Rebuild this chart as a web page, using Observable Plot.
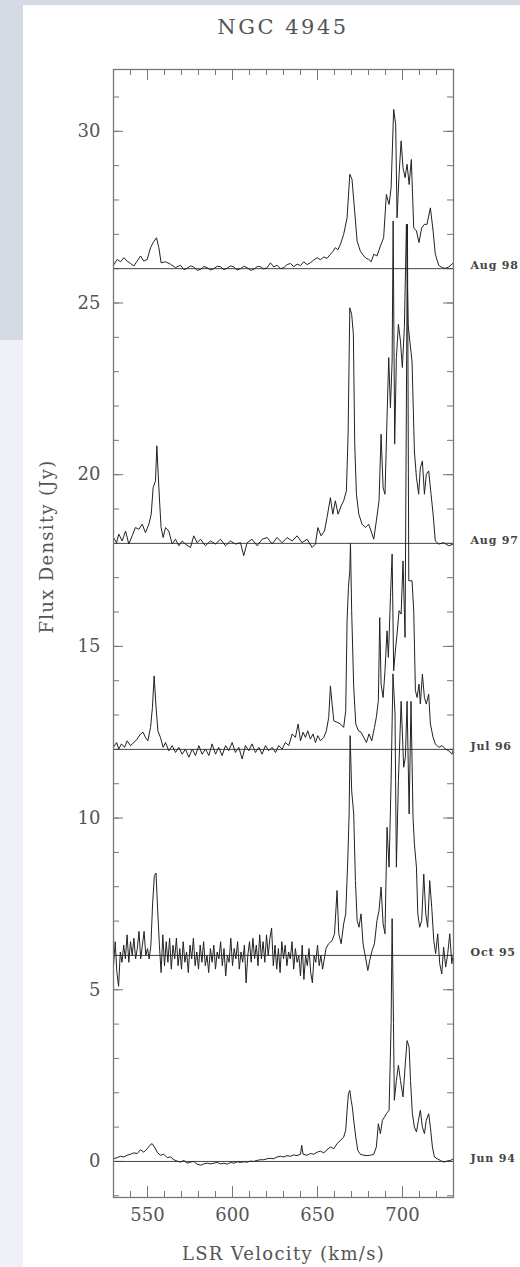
<!DOCTYPE html>
<html><head><meta charset="utf-8">
<script src="https://cdn.jsdelivr.net/npm/d3@7"></script>
<script src="https://cdn.jsdelivr.net/npm/@observablehq/plot@0.6"></script>
<style>
html,body{margin:0;padding:0;}
body{width:520px;height:1267px;position:relative;background:#fff;overflow:hidden;font-family:"DejaVu Serif",serif;}
#bgTop{position:absolute;left:0;top:0;width:520px;height:5px;background:#d5dae5;}
#bgLeft1{position:absolute;left:0;top:0;width:23px;height:340px;background:#d5dae5;}
#bgLeft2{position:absolute;left:0;top:340px;width:23px;height:927px;background:#eff1f6;}
#title{position:absolute;left:133px;top:13px;width:300px;text-align:center;font-size:21px;letter-spacing:2.5px;color:#555;line-height:28px;}
#chart{position:absolute;left:23px;top:50px;}
</style></head>
<body>
<div id="bgTop"></div><div id="bgLeft1"></div><div id="bgLeft2"></div>
<div id="title">NGC 4945</div>
<div id="chart"></div>
<script>
// ---- data (velocity km/s, plotted flux Jy incl. offset) ----
const epochs = ["Aug 98", "Aug 97", "Jul 96", "Oct 95", "Jun 94"];
const offsets = [26, 18, 12, 6, 0];
const xMajor = [550, 600, 650, 700];
const xMinor = [530,540,550,560,570,580,590,600,610,620,630,640,650,660,670,680,690,700,710,720,730];
const yMajor = [0, 5, 10, 15, 20, 25, 30];
const yMinor = [-1,0,1,2,3,4,5,6,7,8,9,10,11,12,13,14,15,16,17,18,19,20,21,22,23,24,25,26,27,28,29,30,31];

const aug98 = [[530,26.1],[532.2,26.27],[534.1,26.2],[536.1,26.32],[538,26.22],[540,26.15],[542,26.08],[543.9,26.22],[545.9,26.37],[547.8,26.22],[549.8,26.27],[551.8,26.61],[553.3,26.76],[555.3,26.9],[556.7,26.61],[558,26.17],[560.6,26.2],[563.5,26.13],[566.5,26.03],[569.4,26.1],[571.4,25.97],[573.3,26.01],[575.3,26.08],[577.2,26.05],[579.2,25.95],[581.2,25.98],[583.1,26.06],[585.1,26.03],[587,25.96],[589,26.0],[591,26.07],[592.9,26.06],[594.9,25.97],[596.8,26.01],[598.8,26.08],[600.8,26.05],[602.7,25.96],[604.7,26.0],[606.6,26.07],[608.6,26.03],[610.6,25.95],[612.5,25.98],[614.5,26.06],[616.4,26.06],[618.4,25.99],[620.4,26.03],[622.3,26.17],[624.3,26.05],[626.2,26.1],[628.2,26.0],[630.2,26.03],[632.1,26.12],[634.1,26.15],[636,26.06],[638,26.13],[640,26.09],[641.9,26.2],[643.9,26.12],[645.8,26.17],[647.8,26.25],[649.8,26.32],[651.7,26.26],[653.7,26.34],[655.6,26.3],[657.6,26.42],[659,26.5],[660.5,26.61],[662,26.55],[663.5,26.71],[665.4,27.0],[667.4,27.48],[669,28.75],[670.3,28.6],[671.7,27.77],[673.3,26.8],[675.2,26.51],[677.2,26.37],[678.6,26.3],[680.1,26.27],[681.6,26.2],[683.1,26.42],[685,26.37],[687,26.66],[688.9,26.9],[690.5,28.16],[692.1,27.87],[693.3,28.36],[694.8,30.64],[696,30.2],[696.8,27.48],[698,28.75],[699.2,29.72],[700.3,28.94],[701.5,28.65],[702.7,29.04],[703.9,28.45],[705.2,29.18],[706.6,27.19],[708.2,27.1],[709.7,26.76],[711.3,27.19],[712.9,27.29],[714.4,27.29],[716.4,27.77],[718,27.1],[719.3,26.42],[721.3,26.1],[723.3,26.03],[725.2,26.01],[727.2,26.05],[729.1,26.13],[730,26.17]];

const aug97 = [[530,18.17],[531.8,18.02],[533.1,18.27],[535.1,18.07],[537.1,18.36],[539,17.98],[541,18.22],[542.9,18.46],[544.9,18.41],[546.9,18.56],[548.8,18.31],[550.8,18.56],[552.2,18.85],[553.3,19.62],[554.7,19.82],[555.5,20.84],[556.3,20.01],[557.2,19.14],[558,18.46],[559.2,18.17],[560.6,18.46],[562.5,18.36],[564.5,17.98],[566.5,18.12],[568.4,17.93],[570.4,18.07],[572.3,17.98],[575.3,17.88],[577.2,18.22],[579.2,18.02],[581.2,18.12],[584.1,17.93],[587,18.07],[590,17.98],[592.9,18.12],[595.9,17.93],[598.8,18.07],[601.7,17.98],[604.7,18.02],[606.6,17.64],[608.6,18.02],[611.5,18.12],[614.5,17.93],[617.4,18.12],[620.4,18.17],[623.3,17.98],[626.2,18.17],[629.2,18.02],[632.1,18.17],[635.1,18.07],[638,18.22],[640.9,18.02],[643.9,18.12],[646.8,17.88],[648.8,17.98],[650.2,18.46],[652.1,18.22],[654.1,18.36],[655.6,18.75],[657.6,19.33],[659,18.85],[660.5,19.24],[662.1,18.85],[663.9,19.09],[665.4,19.24],[667,19.53],[668,21.18],[669,24.86],[670.1,24.67],[671.1,24.09],[671.9,20.89],[672.9,19.43],[674.3,18.85],[676.2,18.56],[678.2,18.46],[680.1,18.56],[681.5,18.36],[683.1,18.12],[684.6,18.65],[686.2,19.24],[687.4,21.18],[688.6,19.62],[689.7,19.43],[690.9,21.66],[691.9,23.41],[692.9,21.95],[693.9,23.31],[694.5,27.39],[695.4,20.89],[696.4,23.41],[697.6,24.38],[698.8,23.89],[699.9,23.12],[701.1,24.28],[702.3,27.29],[703.3,24.38],[704.3,23.89],[705.6,23.31],[707,20.69],[708.2,19.92],[709.5,19.43],[710.5,20.2],[711.7,20.4],[712.9,19.43],[714,20.01],[715.4,20.11],[716.8,19.43],[718,18.85],[719.3,18.07],[721.3,17.98],[724.2,18.02],[727.2,17.93],[730,17.98]];

const jul96 = [[530,12.06],[531.8,12.2],[533.1,12.01],[534.7,12.16],[536.5,12.06],[538,12.25],[540,12.11],[542,12.2],[543.9,12.3],[545.9,12.45],[547.4,12.5],[548.8,12.35],[550.2,12.25],[551.8,12.64],[552.9,13.22],[553.9,14.14],[554.9,13.32],[556.1,12.54],[557.6,12.35],[559.2,12.06],[560.6,12.2],[562.5,11.96],[564.5,12.11],[566.5,11.91],[568.4,12.06],[570.4,11.86],[572.3,12.01],[574.3,11.77],[576.3,12.01],[578.2,11.82],[580.2,12.11],[582.1,11.86],[584.1,12.01],[586.1,11.82],[588,12.16],[590,11.86],[591.9,12.06],[593.9,11.82],[595.9,12.11],[597.8,11.96],[599.8,12.2],[601.7,11.91],[603.7,12.06],[605.7,11.72],[607.6,12.11],[609.6,11.96],[611.5,12.16],[613.5,11.91],[615.5,12.06],[617.4,11.86],[619.4,12.11],[621.3,11.96],[623.3,12.06],[625.3,11.91],[627.2,12.11],[629.2,12.01],[631.1,12.2],[633.1,12.11],[635.1,12.45],[637,12.35],[638.6,12.74],[640,12.25],[641.5,12.5],[642.9,12.35],[644.3,12.54],[645.8,12.3],[647.4,12.45],[648.8,12.2],[650.2,12.4],[651.7,12.25],[653.7,12.35],[655.2,12.54],[656.6,12.93],[657.6,13.85],[658.6,13.32],[659.6,12.83],[661.5,12.79],[663.5,12.74],[665.4,12.64],[666.6,13.13],[667.4,15.75],[668.2,16.72],[669,17.2],[669.4,18.0],[670.1,16.04],[671.3,13.81],[672.5,12.74],[674.1,12.54],[675.6,12.5],[677.2,12.35],[678.8,12.2],[680.3,12.45],[681.9,12.25],[683.5,12.64],[684.6,12.93],[685.8,13.42],[686.6,15.84],[687.4,13.9],[688.6,13.51],[689.7,14.29],[690.9,15.45],[691.7,14.68],[692.9,16.42],[693.9,17.69],[694.8,14.29],[695.8,14.87],[696.8,15.36],[698,16.04],[699.2,15.94],[700.3,17.49],[701.5,15.26],[702.9,27.3],[703.7,16.91],[705.6,16.91],[706.6,16.04],[707.6,13.71],[708.6,13.51],[709.7,13.9],[710.5,13.32],[711.7,14.19],[712.9,13.51],[714,13.32],[715.4,13.61],[716.4,12.74],[718,12.35],[719.3,12.16],[721.3,12.06],[723.3,12.11],[725.2,12.01],[727.2,11.96],[729.1,11.86],[730,12.01]];

const oct95 = [[530,5.7],[531,6.4],[532,5.5],[533,5.1],[534,6.1],[535,5.8],[536,6.3],[537,5.9],[538,6.6],[539,5.8],[540,6.4],[541,6.0],[542,6.5],[543,5.9],[544,6.2],[545,6.7],[546,5.9],[547,6.3],[548,6.7],[549,6.0],[550,6.2],[551,5.9],[552,6.3],[553,7.5],[554,8.3],[555,8.4],[556,7.3],[557,6.3],[558,5.5],[559,6.6],[560,5.7],[561,6.4],[562,5.8],[563,6.5],[564,5.6],[565,6.3],[566,5.9],[567,6.5],[568,5.7],[569,6.2],[570,5.6],[571,6.4],[572,5.8],[573,6.1],[574,5.5],[575,6.3],[576,5.9],[577,6.5],[578,5.7],[579,6.1],[580,5.6],[581,6.3],[582,5.8],[583,6.4],[584,5.7],[585,6.0],[586,5.5],[587,6.2],[588,5.8],[589,6.3],[590,5.6],[591,6.1],[592,5.9],[593,6.4],[594,5.7],[595,6.2],[596,5.4],[597,6.0],[598,5.8],[599,6.5],[600,5.7],[601,6.2],[602,5.9],[603,6.4],[604,5.6],[605,6.1],[606,5.8],[607,6.3],[608,5.2],[609,6.0],[610,6.4],[611,5.8],[612,6.5],[613,5.9],[614,6.3],[615,5.7],[616,6.6],[617,5.9],[618,6.4],[619,5.8],[620,6.6],[621,6.0],[622,6.5],[623,6.8],[624,5.7],[625,6.3],[626,5.6],[627,6.2],[628,5.5],[629,6.4],[630,5.9],[631,6.3],[632,5.7],[633,6.1],[634,5.9],[635,6.4],[636,5.6],[637,6.2],[638,5.8],[639,6.0],[640,5.4],[641,6.3],[642,5.3],[643,6.0],[644,5.7],[645,6.2],[646,5.5],[647,5.2],[648,6.0],[649,5.8],[650,6.3],[651,5.7],[652,6.0],[653,5.6],[655,6.2],[656.5,6.34],[658.6,6.43],[660,6.63],[661.5,7.89],[662.5,6.63],[663.9,6.34],[665.4,6.92],[666.6,7.21],[667.8,8.76],[668.6,10.12],[669.2,12.4],[670.1,10.8],[671.3,10.12],[672.3,8.18],[673.3,7.02],[674.4,6.82],[675.6,7.21],[676.8,6.34],[678.2,5.95],[679.6,5.56],[680.7,5.85],[682.1,6.14],[683.5,6.34],[685,7.02],[686.2,7.31],[687.4,7.99],[688.6,6.92],[689.7,6.63],[690.9,9.73],[692.1,8.57],[693.3,11.09],[694.4,14.2],[695.6,13.03],[696.4,8.57],[697.6,11.09],[699.2,13.4],[700.7,11.48],[701.7,11.77],[702.7,13.4],[703.9,10.12],[705,13.4],[706.2,10.02],[707,9.25],[708.2,8.57],[709,7.21],[710.1,6.82],[711.3,7.02],[712.5,8.37],[713.7,7.21],[714.8,6.82],[716,8.18],[717.2,7.4],[718.4,6.43],[719.5,6.05],[720.7,6.63],[721.9,5.76],[723.1,5.46],[724.2,6.24],[725.4,5.66],[726.6,6.05],[727.8,6.63],[729,5.76],[730,6.05]];

const jun94 = [[530,0.08],[532.2,0.11],[534.1,0.15],[536.1,0.13],[538,0.18],[540,0.21],[542,0.25],[543.9,0.23],[545.9,0.34],[547.8,0.27],[549.8,0.37],[551.4,0.47],[552.7,0.52],[554.1,0.42],[555.7,0.27],[557.6,0.18],[559.6,0.21],[561.6,0.11],[563.5,0.13],[565.5,0.05],[567.4,0.01],[569.4,-0.02],[571.4,0.03],[573.3,-0.05],[575.3,-0.02],[577.2,0.0],[579.2,-0.08],[581.2,-0.11],[583.1,-0.07],[585.1,-0.05],[587,-0.07],[589,-0.05],[591,-0.03],[592.9,-0.07],[594.9,-0.05],[596.8,-0.08],[598.8,-0.03],[600.8,-0.05],[602.7,-0.01],[604.7,-0.03],[606.6,-0.01],[608.6,-0.02],[610.6,0.01],[612.5,0.0],[614.5,0.03],[616.4,0.05],[618.4,0.05],[620.4,0.08],[622.3,0.09],[624.3,0.08],[626.2,0.13],[628.2,0.15],[630.2,0.13],[632.1,0.17],[634.1,0.15],[636,0.19],[638,0.17],[640,0.21],[640.7,0.47],[641.5,0.21],[643.9,0.18],[645.8,0.23],[647.8,0.21],[649.8,0.27],[651.7,0.3],[653.7,0.25],[655.6,0.34],[657.6,0.42],[659.6,0.37],[661.5,0.52],[663.5,0.61],[665.4,0.71],[666.6,0.91],[667.4,1.49],[668.2,1.97],[669,2.07],[669.8,1.78],[670.5,1.58],[671.3,1.2],[672.5,0.71],[673.7,0.32],[675.2,0.21],[677.2,0.18],[679.2,0.17],[681.1,0.18],[683.1,0.21],[684.6,0.42],[685.8,1.1],[687,0.81],[688.2,1.2],[689.4,1.29],[690.5,1.39],[692.1,1.49],[693.3,4.01],[693.9,7.07],[694.7,4.01],[695.2,1.78],[696.4,2.36],[697.6,2.8],[698.8,2.36],[700.3,1.88],[701.5,2.75],[702.7,3.52],[703.9,3.33],[704.7,2.36],[705.8,1.39],[707,1.0],[708.2,0.86],[709.4,1.2],[710.5,1.49],[711.7,1.0],[712.9,0.81],[714,1.2],[715.4,1.39],[716.4,1.0],[717.6,0.42],[718.8,0.13],[720.3,0.08],[722.3,0.03],[724.2,-0.02],[726.2,0.01],[728.2,0.03],[730,0.08]];

const spectra = [aug98, aug97, jul96, oct95, jun94];

// ---- layout ----
const W = 497, H = 1217, mL = 90, mR = 67, mT = 19, mB = 70;
const xDomain = [530, 730], yDomain = [-1.05, 31.8];
const kX = (W - mL - mR) / (xDomain[1] - xDomain[0]);
const kY = (H - mT - mB) / (yDomain[1] - yDomain[0]);

const rows = spectra.flatMap((s, i) => s.map(([v, f]) => ({epoch: epochs[i], v, f})));
const baseRows = epochs.map((e, i) => ({epoch: e, y: offsets[i]}));
const tickStroke = "#777";
const txt = "#555";

const plot = Plot.plot({
  width: W, height: H,
  marginLeft: mL, marginRight: mR, marginTop: mT, marginBottom: mB,
  x: {domain: xDomain, axis: null},
  y: {domain: yDomain, axis: null},
  style: {fontFamily: "'DejaVu Serif', serif", background: "transparent", overflow: "visible"},
  marks: [
    // inward ticks on all four sides
    Plot.ruleX(xMinor, {x: d => d, y1: yDomain[0], y2: yDomain[0] + 6 / kY, stroke: tickStroke}),
    Plot.ruleX(xMajor, {x: d => d, y1: yDomain[0], y2: yDomain[0] + 11 / kY, stroke: tickStroke}),
    Plot.ruleX(xMinor, {x: d => d, y1: yDomain[1], y2: yDomain[1] - 6 / kY, stroke: tickStroke}),
    Plot.ruleX(xMajor, {x: d => d, y1: yDomain[1], y2: yDomain[1] - 11 / kY, stroke: tickStroke}),
    Plot.ruleY(yMinor, {y: d => d, x1: xDomain[0], x2: xDomain[0] + 6 / kX, stroke: tickStroke}),
    Plot.ruleY(yMajor, {y: d => d, x1: xDomain[0], x2: xDomain[0] + 10 / kX, stroke: tickStroke}),
    Plot.ruleY(yMinor, {y: d => d, x1: xDomain[1], x2: xDomain[1] - 6 / kX, stroke: tickStroke}),
    Plot.ruleY(yMajor, {y: d => d, x1: xDomain[1], x2: xDomain[1] - 10 / kX, stroke: tickStroke}),
    // baselines
    Plot.ruleY(baseRows, {y: "y", stroke: "#444", strokeWidth: 1}),
    // spectra
    Plot.line(rows, {x: "v", y: "f", z: "epoch", stroke: "#222", strokeWidth: 1, strokeLinejoin: "miter"}),
    Plot.frame({stroke: "#777", strokeWidth: 1.3}),
    // epoch labels
    Plot.text(baseRows, {x: xDomain[1], y: "y", text: "epoch", dx: 17, dy: -3, textAnchor: "start", fontSize: 11, fontWeight: "bold", fill: "#444", style: "letter-spacing:0.8px"}),
    // tick labels
    Plot.text(xMajor, {x: d => d, frameAnchor: "bottom", dy: 18, lineAnchor: "middle", text: d => String(d), fontSize: 18, fill: txt}),
    Plot.text(yMajor, {y: d => d, frameAnchor: "left", dx: -13, textAnchor: "end", text: d => String(d), fontSize: 18, fill: txt}),
    // axis titles
    Plot.text(["LSR Velocity (km/s)"], {frameAnchor: "bottom", dy: 57, lineAnchor: "middle", text: d => d, fontSize: 18, fill: txt}),
    Plot.text(["Flux Density (Jy)"], {frameAnchor: "left", dx: -66, rotate: -90, lineAnchor: "middle", text: d => d, fontSize: 18, fill: txt})
  ]
});
plot.querySelectorAll("text").forEach(t => {
  const s = t.textContent;
  if (s === "LSR Velocity (km/s)" || s === "Flux Density (Jy)") t.style.letterSpacing = "1.3px";
  if (epochs.includes(s)) t.style.letterSpacing = "0.8px";
});
document.getElementById("chart").appendChild(plot);
</script>
</body></html>
